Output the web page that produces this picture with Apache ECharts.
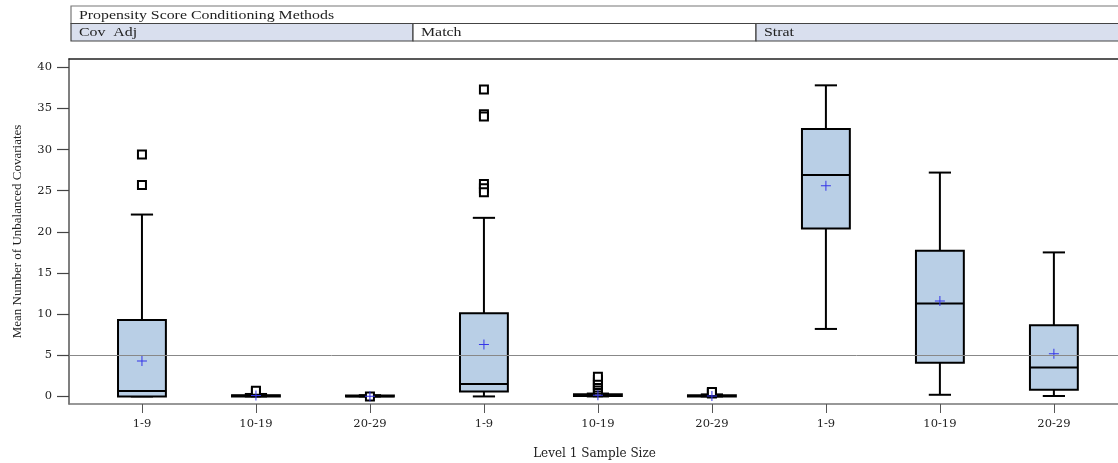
<!DOCTYPE html>
<html>
<head>
<meta charset="utf-8">
<script src="https://cdn.jsdelivr.net/npm/echarts@6/dist/echarts.min.js"></script>
<style>
  html, body { margin: 0; padding: 0; background: #fff; }
  #chart { width: 1118px; height: 463px; }
</style>
</head>
<body>
<div id="chart"></div>
<script>
// Panels (conditioning methods) and the sample-size groups inside each
const headerTitle = 'Propensity Score Conditioning Methods';
const panels = ['Cov  Adj', 'Match', 'Strat'];
const sampleSizes = ['1-9', '10-19', '20-29'];
const categories = [].concat(sampleSizes, sampleSizes, sampleSizes);

// Box-and-whisker summaries, one value per category (left to right)
const whiskerLow  = [0,    0,    0,    0,    0,    0,    8.2,  0.2,  0.05];
const quartile1   = [0,    0,    0,    0.6,  0.05, 0,    20.4, 4.1,  0.8];
const medians     = [0.65, 0.08, 0.03, 1.5,  0.12, 0.05, 26.9, 11.3, 3.5];
const quartile3   = [9.3,  0.15, 0.1,  10.1, 0.25, 0.15, 32.5, 17.7, 8.65];
const whiskerHigh = [22.1, 0.3,  0.15, 21.7, 0.35, 0.25, 37.8, 27.2, 17.5];
const means       = [4.3,  0.1,  0.02, 6.3,  0.15, 0.05, 25.6, 11.6, 5.2];
const outliers = [
  [29.4, 25.7],
  [0.5, 0.6, 0.7],
  [0],
  [37.3, 34.3, 34.0, 25.8, 25.3, 24.8],
  [0.5, 0.8, 1.1, 1.4, 1.7, 2.0, 2.4],
  [0.35, 0.45, 0.55],
  [],
  [],
  []
];

// Axis tick values and the reference level
const yTicks = [0, 5, 10, 15, 20, 25, 30, 35, 40];
const referenceLevel = 5;

const boxData = categories.map((c, i) =>
  [i, whiskerLow[i], quartile1[i], medians[i], quartile3[i], whiskerHigh[i]]);
const meanData = categories.map((c, i) => [i, means[i]]);
const outlierData = [];
outliers.forEach((list, i) => list.forEach(v => outlierData.push([i, v])));
const xTickValues = categories.map((c, i) => i);

const serif = '"Liberation Serif", "DejaVu Serif", serif';
const wideSerif = '"DejaVu Serif", serif';
const chart = echarts.init(document.getElementById('chart'), null, { renderer: 'canvas' });

function renderBox(params, api) {
  const x = api.value(0);
  const lo = api.coord([x, api.value(1)]);
  const q1 = api.coord([x, api.value(2)]);
  const md = api.coord([x, api.value(3)]);
  const q3 = api.coord([x, api.value(4)]);
  const hi = api.coord([x, api.value(5)]);
  const band = api.size([1, 0])[0];
  const bw = band * 0.42;
  const cw = band * 0.195;
  const cx = lo[0];
  const ln = { stroke: '#000', lineWidth: 2 };
  return {
    type: 'group',
    children: [
      { type: 'line', shape: { x1: cx, y1: hi[1], x2: cx, y2: q3[1] }, style: ln },
      { type: 'line', shape: { x1: cx, y1: q1[1], x2: cx, y2: lo[1] }, style: ln },
      { type: 'line', shape: { x1: cx - cw / 2, y1: hi[1], x2: cx + cw / 2, y2: hi[1] }, style: ln },
      { type: 'line', shape: { x1: cx - cw / 2, y1: lo[1], x2: cx + cw / 2, y2: lo[1] }, style: ln },
      { type: 'rect', shape: { x: cx - bw / 2, y: q3[1], width: bw, height: q1[1] - q3[1] },
        style: { fill: '#b9cfe6', stroke: '#000', lineWidth: 2 } },
      { type: 'line', shape: { x1: cx - bw / 2, y1: md[1], x2: cx + bw / 2, y2: md[1] }, style: ln }
    ]
  };
}

// Header strip with the panel names
const hdrLeft = 71, hdrRight = 1125, hdrTop = 6, hdrMid = 23.5, hdrBottom = 41;
const cellEdges = [hdrLeft, 413, 756, hdrRight];
const cellFills = ['#d9dfee', '#ffffff', '#d9dfee'];
const headerText = (text, x, y) => ({
  type: 'text', x: x, y: y, scaleX: 1.22, z: 10,
  style: { text: text, font: '13px ' + serif, fill: '#222', verticalAlign: 'middle' }
});
const header = [
  { type: 'rect', shape: { x: hdrLeft, y: hdrTop, width: hdrRight - hdrLeft, height: hdrMid - hdrTop },
    style: { fill: '#fff', stroke: '#777', lineWidth: 1.2 } },
  headerText(headerTitle, 79, hdrTop + 9.5)
];
panels.forEach((p, i) => {
  header.push({ type: 'rect', shape: { x: cellEdges[i], y: hdrMid, width: cellEdges[i + 1] - cellEdges[i], height: hdrBottom - hdrMid },
    style: { fill: cellFills[i], stroke: '#444', lineWidth: 1.2 } });
  header.push(headerText(p, cellEdges[i] + 8, hdrMid + 9.5));
});

chart.setOption({
  animation: false,
  backgroundColor: '#fff',
  graphic: header,
  grid: { left: 69, right: -2, top: 59, bottom: 59, containLabel: false, outerBoundsMode: 'none' },
  xAxis: [{
    type: 'value', min: -0.64, max: 8.58,
    name: 'Level 1 Sample Size', nameLocation: 'middle', nameGap: 44,
    nameTextStyle: { fontFamily: wideSerif, fontSize: 12, color: '#222' },
    axisLine: { show: true, onZero: false, lineStyle: { color: '#777', width: 1.5 } },
    axisTick: { show: true, customValues: xTickValues, length: 9, lineStyle: { color: '#555', width: 1 } },
    axisLabel: { customValues: xTickValues, margin: 14, fontFamily: wideSerif, fontSize: 11.5, color: '#222',
      formatter: v => categories[Math.round(v)] },
    splitLine: { show: false }
  }, {
    type: 'value', position: 'top', min: -0.64, max: 8.58,
    axisLine: { show: true, onZero: false, lineStyle: { color: '#222', width: 1.5 } },
    axisTick: { show: false }, axisLabel: { show: false }, splitLine: { show: false }
  }],
  yAxis: {
    type: 'value', min: -0.92, max: 41,
    name: 'Mean Number of Unbalanced Covariates', nameLocation: 'middle', nameGap: 45,
    nameTextStyle: { fontFamily: serif, fontSize: 13, color: '#222' },
    axisLine: { show: true, onZero: false, lineStyle: { color: '#555', width: 1.5 } },
    axisTick: { show: true, customValues: yTicks, length: 12, lineStyle: { color: '#444', width: 1.2 } },
    axisLabel: { customValues: yTicks, margin: 17, fontFamily: wideSerif, fontSize: 11.5, color: '#222' },
    splitLine: { show: false }
  },
  series: [
    {
      type: 'line', data: [], z: 1, silent: true,
      markLine: { silent: true, symbol: 'none', label: { show: false },
        lineStyle: { color: '#888', width: 1, type: 'solid' },
        data: [{ yAxis: referenceLevel }] }
    },
    {
      type: 'custom', z: 2, renderItem: renderBox, data: boxData,
      encode: { x: 0, y: [1, 2, 3, 4, 5] }, silent: true
    },
    {
      type: 'scatter', z: 3, data: outlierData, symbol: 'rect', symbolSize: 8,
      itemStyle: { color: '#fff', borderColor: '#000', borderWidth: 2, opacity: 1 }, silent: true
    },
    {
      type: 'scatter', z: 4, data: meanData, symbolSize: 10,
      symbol: 'path://M4.5,0h1v10h-1zM0,4.5h10v1h-10z',
      itemStyle: { color: '#3535e8', opacity: 1 }, silent: true
    }
  ]
});
</script>
</body>
</html>
